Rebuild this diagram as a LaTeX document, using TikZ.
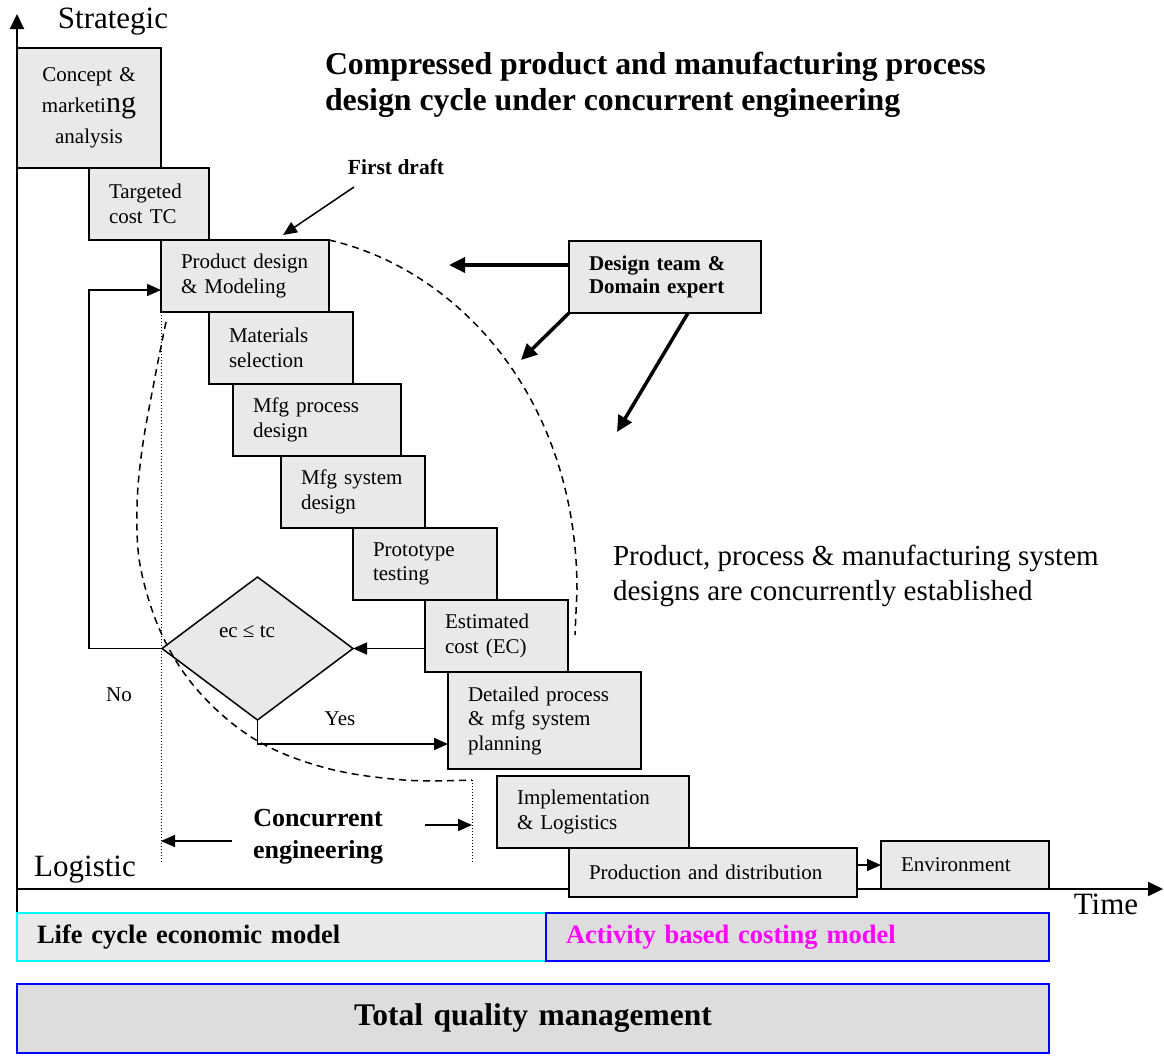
\documentclass[tikz,border=0pt]{standalone}
\usepackage{fontspec}
\setmainfont{Liberation Serif}
\usetikzlibrary{arrows.meta,shapes.geometric}
\definecolor{boxgray}{HTML}{E9E9E9}
\definecolor{boxdark}{HTML}{DDDDDD}
\definecolor{magtext}{HTML}{FF00FF}
\definecolor{cyanline}{HTML}{00FFFF}
\definecolor{blueline}{HTML}{0000FF}
\begin{document}
\begin{tikzpicture}[x=1pt,y=-1pt,
  stage/.style={draw=black, line width=1.8pt, fill=boxgray, anchor=north west,
    inner xsep=20pt, inner ysep=0pt, outer sep=0pt, align=left,
    font=\fontsize{21}{24.5}\selectfont},
  txt/.style={inner sep=0pt, outer sep=0pt, font=\fontsize{21}{24.5}\selectfont},
  arr/.style={line width=1.5pt, -{Triangle[length=14pt,width=12pt]}},
  bigarr/.style={line width=3.5pt, -{Triangle[length=16pt,width=15pt]}},
  axisline/.style={line width=2pt, -{Triangle[length=15pt,width=14pt]}},
  dashcurve/.style={line width=1.5pt, dash pattern=on 7pt off 5pt},
  dotline/.style={line width=1pt, dash pattern=on 1pt off 2pt},
  bandbox/.style={line width=2pt, anchor=north west, inner xsep=20pt, inner ysep=0pt, outer sep=0pt,
    font=\bfseries\fontsize{26.5}{30}\selectfont}
]
\useasboundingbox (0,0) rectangle (1164,1055);

% axes
\coordinate (vbot) at (17,913);
\coordinate (vtop) at (17,14);
\coordinate (hleft) at (17,889);
\coordinate (hright) at (1163,889);
\draw[axisline] (vbot) -- (vtop);
\draw[axisline] (hleft) -- (hright);

% axis labels and title
\node[txt, font=\fontsize{31}{31}\selectfont] (strat) at (113,22) {Strategic};
\node[txt, font=\fontsize{31}{31}\selectfont] (logi) at (85,870) {Logistic};
\node[txt, font=\fontsize{31}{31}\selectfont] (time) at (1106,904) {Time};
\node[txt, anchor=west, align=left, font=\bfseries\fontsize{31.8}{36}\selectfont] (title) at (325,85)
  {Compressed product and manufacturing process\\design cycle under concurrent engineering};
\node[txt, anchor=west, align=left, font=\fontsize{29}{35}\selectfont] (concnote) at (613,576)
  {Product, process \& manufacturing system\\designs are concurrently established};
\node[txt, font=\bfseries\fontsize{21.5}{24}\selectfont] (fd) at (396,167) {First draft};

% stage boxes
\node[stage, align=center, text width=104pt, minimum height=120pt, font=\fontsize{21}{31}\selectfont] (cm) at (17,48)
  {Concept \&\\marketi{\fontsize{30}{31}\selectfont ng}\\analysis};
\node[stage, text width=80pt, minimum height=72pt] (tc) at (89,168) {Targeted\\cost TC};
\node[stage, text width=128pt, minimum height=72pt] (pd) at (161,240) {Product design\\\& Modeling};
\node[stage, text width=104pt, minimum height=72pt] (ms) at (209,312) {Materials\\selection};
\node[stage, text width=128pt, minimum height=72pt] (mp) at (233,384) {Mfg process\\design};
\node[stage, text width=104pt, minimum height=72pt] (msd) at (281,456) {Mfg system\\design};
\node[stage, text width=104pt, minimum height=72pt] (pt) at (353,528) {Prototype\\testing};
\node[stage, text width=103pt, minimum height=72pt] (ec) at (425,600) {Estimated\\cost (EC)};
\node[stage, text width=153pt, minimum height=97pt] (dp) at (448,672) {Detailed process\\\& mfg system\\planning};
\node[stage, text width=152pt, minimum height=72pt] (im) at (497,776) {Implementation\\\& Logistics};
\node[stage, text width=248pt, minimum height=49pt] (prod) at (569,848) {Production and distribution};
\node[stage, text width=128pt, minimum height=48pt] (env) at (881,841) {Environment};
\node[stage, text width=152pt, minimum height=72pt, font=\bfseries\fontsize{21}{23.5}\selectfont] (dt) at (569,241)
  {Design team \&\\Domain expert};

% decision
\node[diamond, draw=black, line width=1.5pt, fill=boxgray, minimum width=191pt, minimum height=143pt,
  inner sep=0pt, outer sep=0pt] (dec) at (257.5,648.5) {};
\node[txt] (ectc) at (247,632) {ec ≤ tc};
\node[txt] (no) at (119,695) {No};
\node[txt] (yes) at (340,719) {Yes};

% bands
\node[bandbox, draw=cyanline, fill=boxgray, minimum width=529pt, minimum height=48pt, text width=489pt, align=left] (lc) at (17,913)
  {Life cycle economic model};
\node[bandbox, draw=blueline, fill=boxdark, minimum width=503pt, minimum height=48pt, text width=463pt, align=left, text=magtext] (abc) at (546,913)
  {Activity based costing model};
\node[bandbox, draw=blueline, fill=boxdark, minimum width=1032pt, minimum height=69pt, text width=992pt, align=center,
  font=\bfseries\fontsize{31.5}{34}\selectfont] (tqm) at (17,984) {Total quality management};

% connectors
\coordinate (fdA) at (354,187);
\coordinate (fdB) at (283,235);
\draw[arr] (fdA) -- (fdB);

\coordinate (dtA) at (569,265);
\coordinate (dtAe) at (449,265);
\coordinate (dtBe) at (521,360);
\coordinate (dtC) at (688,313);
\coordinate (dtCe) at (617,432);
\draw[bigarr] (dtA) -- (dtAe);
\draw[bigarr] (dt.south west) -- (dtBe);
\draw[bigarr] (dtC) -- (dtCe);

\coordinate (fb1) at (89,648.5);
\coordinate (fb2) at (89,290);
\coordinate (fb3) at (161,290);
\draw[arr] (dec.west) -- (fb1) -- (fb2) -- (fb3);

\draw[arr] (ec.west |- dec.east) -- (dec.east);

\coordinate (yesC) at (257.5,744);
\coordinate (yesE) at (448,744);
\draw[arr] (dec.south) -- (yesC) -- (yesE);

\draw[arr] (prod.east |- env.west) -- (env.west);

% concurrent engineering span
\coordinate (d1b) at (161,862);
\coordinate (d2t) at (472,780);
\coordinate (d2b) at (472,862);
\draw[dotline] (pd.south west) -- (d1b);
\draw[dotline] (d2t) -- (d2b);
\node[txt, align=center, font=\bfseries\fontsize{26}{32}\selectfont] (ce) at (318,837) {Concurrent\\engineering};
\coordinate (ceL1) at (232,841);
\coordinate (ceL2) at (161,841);
\coordinate (ceR1) at (425,825);
\coordinate (ceR2) at (472,825);
\draw[arr] (ceL1) -- (ceL2);
\draw[arr] (ceR1) -- (ceR2);

% dashed envelope
\draw[dashcurve] (pd.north east) .. controls (460,270) and (577,400) .. (577,590) -- (575,635);
\draw[dashcurve] plot[smooth, tension=0.6] coordinates {(166,322) (155,377) (142,450) (137,510) (141,570) (163,637) (200,693) (256,740) (326,768) (404,780) (472,780)};
\end{tikzpicture}
\end{document}
